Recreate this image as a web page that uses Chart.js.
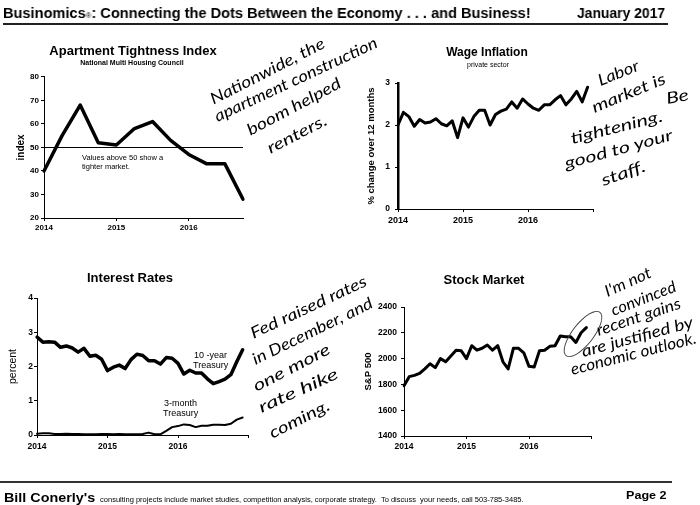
<!DOCTYPE html>
<html><head><meta charset="utf-8">
<script src="https://cdn.jsdelivr.net/npm/chart.js@4.4.1/dist/chart.umd.min.js"></script>
<style>
html,body{margin:0;padding:0;background:#fff;}
body{width:700px;height:505px;position:relative;overflow:hidden;font-family:"Liberation Sans",Arial,sans-serif;color:#000;}
.abs{position:absolute;white-space:nowrap;line-height:1;will-change:transform;}
.ctr{position:absolute;white-space:nowrap;line-height:1;text-align:center;width:240px;will-change:transform;}
.cv{position:absolute;}
.hand{position:absolute;white-space:nowrap;line-height:1;font-family:Lato,"Open Sans",sans-serif;font-weight:400;font-style:italic;font-size:16px;color:#000;z-index:5;}
</style></head><body>

<!-- header -->
<div class="abs" data-w="528" style="left:3px;top:5px;font-size:15px;font-weight:bold;">Businomics<span style="font-size:8px;font-weight:normal;">®</span>: Connecting the Dots Between the Economy . . . and Business!</div>
<div class="abs" data-w="88" style="left:577px;top:5px;font-size:15px;font-weight:bold;">January 2017</div>
<div style="position:absolute;left:3px;top:23px;width:665px;height:1.5px;background:#222;"></div>

<!-- chart titles -->
<div class="ctr" style="left:13px;top:44px;font-size:13px;font-weight:bold;">Apartment Tightness Index</div>
<div class="ctr" style="left:12px;top:59px;font-size:7px;font-weight:bold;">National Multi Housing Council</div>
<div class="ctr" style="left:367px;top:46px;font-size:12px;font-weight:bold;">Wage Inflation</div>
<div class="ctr" style="left:368px;top:60.5px;font-size:7px;">private sector</div>
<div class="ctr" style="left:10px;top:271px;font-size:13px;font-weight:bold;">Interest Rates</div>
<div class="ctr" style="left:364px;top:273px;font-size:13px;font-weight:bold;">Stock Market</div>

<!-- charts -->
<canvas id="c1" class="cv" width="270" height="170" style="left:0px;top:70px;"></canvas>
<canvas id="c2" class="cv" width="260" height="160" style="left:350px;top:70px;"></canvas>
<canvas id="c3" class="cv" width="265" height="175" style="left:0px;top:285px;"></canvas>
<canvas id="c4" class="cv" width="260" height="175" style="left:350px;top:285px;"></canvas>

<!-- in-chart notes -->
<div class="abs" style="left:82px;top:152.5px;font-size:7.5px;line-height:9px;">Values above 50 show a<br>tighter market.</div>
<div class="abs" style="left:193px;top:350px;font-size:9px;line-height:10px;text-align:center;">10 -year<br>Treasury</div>
<div class="abs" style="left:163px;top:398px;font-size:9px;line-height:10px;text-align:center;">3-month<br>Treasury</div>

<!-- ellipse around stock end -->
<div style="position:absolute;left:555px;top:323px;width:54px;height:20px;border:1px solid #444;border-radius:50%;transform:rotate(-52deg);z-index:5;"></div>

<!-- footer -->
<div style="position:absolute;left:0px;top:481px;width:672px;height:1.5px;background:#333;"></div>
<div class="abs" data-w="520" style="left:4px;top:489px;"><span style="font-size:13px;font-weight:bold;">Bill Conerly's</span> <span style="font-size:6.8px;">consulting projects include market studies, competition analysis, corporate strategy.&nbsp; To discuss&nbsp; your needs, call 503-785-3485.</span></div>
<div class="abs" data-w="40" style="left:626px;top:490px;font-size:11px;font-weight:bold;">Page 2</div>

<script>
// ---------- data ----------
const yearLabels = ['2014', '2015', '2016'];

const quarters = ['2014-Q1','2014-Q2','2014-Q3','2014-Q4','2015-Q1','2015-Q2','2015-Q3','2015-Q4','2016-Q1','2016-Q2','2016-Q3','2016-Q4'];
const apartmentIndex = [40, 55, 68, 52, 51, 58, 61, 53, 47, 43, 43, 28];
const apartmentThreshold = 50;

const months = ['2014-01','2014-02','2014-03','2014-04','2014-05','2014-06','2014-07','2014-08','2014-09','2014-10','2014-11','2014-12',
                '2015-01','2015-02','2015-03','2015-04','2015-05','2015-06','2015-07','2015-08','2015-09','2015-10','2015-11','2015-12',
                '2016-01','2016-02','2016-03','2016-04','2016-05','2016-06','2016-07','2016-08','2016-09','2016-10','2016-11','2016-12',
                '2017-01'];

const wageInflation = [2.0, 2.3, 2.2, 1.97, 2.13, 2.05, 2.07, 2.15, 2.03, 1.98, 2.1, 1.7,
                       2.17, 1.95, 2.2, 2.35, 2.35, 2.0, 2.25, 2.33, 2.38, 2.55, 2.4, 2.62,
                       2.5, 2.4, 2.35, 2.48, 2.48, 2.6, 2.7, 2.48, 2.62, 2.8, 2.55, 2.9];

const treasury10y = [2.86, 2.71, 2.72, 2.71, 2.56, 2.60, 2.54, 2.42, 2.53, 2.30, 2.33, 2.21,
                     1.88, 1.98, 2.04, 1.94, 2.20, 2.36, 2.32, 2.17, 2.17, 2.07, 2.26, 2.24,
                     2.09, 1.78, 1.89, 1.81, 1.81, 1.64, 1.50, 1.56, 1.63, 1.76, 2.14, 2.49];
const treasury3m = [0.04, 0.05, 0.05, 0.03, 0.03, 0.04, 0.03, 0.03, 0.02, 0.02, 0.02, 0.03,
                    0.03, 0.02, 0.03, 0.02, 0.02, 0.02, 0.03, 0.07, 0.02, 0.02, 0.12, 0.23,
                    0.26, 0.31, 0.29, 0.23, 0.27, 0.27, 0.30, 0.30, 0.29, 0.33, 0.45, 0.51];

const sp500 = [1790, 1860, 1870, 1885, 1920, 1960, 1930, 2000, 1975, 2020, 2065, 2060,
               2000, 2100, 2065, 2080, 2105, 2065, 2100, 1975, 1920, 2080, 2080, 2045,
               1940, 1935, 2060, 2065, 2095, 2100, 2175, 2170, 2170, 2125, 2200, 2240];

// handwritten notes: text, baseline start, baseline end
const notes = [
  ['Nationwide, the', 213, 104, 326, 46],
  ['apartment construction', 217, 121, 378, 46],
  ['boom helped', 250, 135, 342, 86],
  ['renters.', 270, 153, 328, 123],
  ['Labor', 600, 85, 640, 69],
  ['market is', 594, 112, 667, 82],
  ['Be', 667, 103, 689, 99],
  ['tightening.', 572, 143, 664, 120],
  ['good to your', 566, 168, 673, 139],
  ['staff.', 603, 185, 646, 170],
  ['Fed raised rates', 253, 338, 368, 284],
  ['in December, and', 255, 364, 374, 306],
  ['one more', 256, 391, 331, 352],
  ['rate hike', 261, 412, 339, 377],
  ['coming.', 272, 438, 331, 408],
  ["I'm not", 607, 296, 652, 276],
  ['convinced', 613, 315, 677, 290],
  ['recent gains', 598, 335, 682, 307],
  ['are justified by', 583, 356, 694, 326],
  ['economic outlook.', 572, 374, 697, 342]
];

// ---------- helpers ----------
const FONT = '"Liberation Sans", Arial, sans-serif';

function xAxis(every, size, pad, height) {
  return {
    type: 'category', offset: false,
    grid: { drawOnChartArea: false, drawTicks: true, tickLength: 3, color: '#000', lineWidth: 1 },
    border: { display: true, color: '#000', width: 1 },
    ticks: {
      autoSkip: false, maxRotation: 0, minRotation: 0, padding: pad, color: '#000',
      font: { family: FONT, size: size, weight: 'bold' },
      callback(v) { const l = this.getLabelForValue(v); const y = l.slice(0, 4); return yearLabels.includes(y) ? y : ''; }
    },
    afterBuildTicks(axis) { axis.ticks = axis.ticks.filter(t => t.value % every === 0); },
    afterFit(axis) { axis.height = height; }
  };
}
function yAxis(min, max, step, title, titleWeight, titleSize, size, width, pad, bw) {
  return {
    min: min, max: max,
    grid: { drawOnChartArea: false, drawTicks: true, tickLength: 3, color: '#000', lineWidth: 1 },
    border: { display: true, color: '#000', width: bw },
    ticks: { stepSize: step, padding: pad, color: '#000', font: { family: FONT, size: size, weight: 'bold' },
             callback: v => String(v) },
    title: { display: true, text: title, color: '#000', padding: { top: 4, bottom: 4 },
             font: { family: FONT, size: titleSize, weight: titleWeight } },
    afterFit(axis) { axis.width = width; }
  };
}
function lineDs(label, data, w) {
  return { label: label, data: data, borderColor: '#000', borderWidth: w, pointRadius: 0,
           tension: 0, fill: false, borderJoinStyle: 'round', borderCapStyle: 'round' };
}
function baseOpts(padding, scales) {
  return {
    responsive: false, animation: false, devicePixelRatio: 1,
    layout: { padding: padding },
    plugins: { legend: { display: false }, tooltip: { enabled: false }, title: { display: false } },
    scales: scales
  };
}

const thresholdLine = {
  id: 'thresholdLine',
  beforeDatasetsDraw(chart) {
    const { ctx, chartArea, scales } = chart;
    const y = Math.round(scales.y.getPixelForValue(apartmentThreshold)) + 0.5;
    ctx.save(); ctx.strokeStyle = '#000'; ctx.lineWidth = 1;
    ctx.beginPath(); ctx.moveTo(chartArea.left, y); ctx.lineTo(chartArea.right, y); ctx.stroke();
    ctx.restore();
  }
};

// ---------- charts ----------
new Chart(document.getElementById('c1'), {
  type: 'line',
  data: { labels: quarters, datasets: [lineDs('Apartment Tightness Index', apartmentIndex, 3.5)] },
  options: baseOpts({ left: 11, top: 6, right: 27, bottom: 4 }, {
    x: xAxis(4, 8, 2, 18),
    y: yAxis(20, 80, 10, 'index', 'bold', 10, 8, 33, 2, 1)
  }),
  plugins: [thresholdLine]
});

new Chart(document.getElementById('c2'), {
  type: 'line',
  data: { labels: months, datasets: [lineDs('Wage Inflation', wageInflation, 3)] },
  options: baseOpts({ left: 12, top: 13, right: 17, bottom: 4 }, {
    x: xAxis(12, 9, 3, 17),
    y: yAxis(0, 3, 1, '% change over 12 months', 'bold', 9.5, 8.5, 36, 5, 2.5)
  })
});

new Chart(document.getElementById('c3'), {
  type: 'line',
  data: { labels: months, datasets: [lineDs('10-year Treasury', treasury10y, 3.5), lineDs('3-month Treasury', treasury3m, 2)] },
  options: baseOpts({ left: 3, top: 13, right: 16.5, bottom: 7 }, {
    x: xAxis(12, 8.5, 4, 18),
    y: yAxis(0, 4, 1, 'percent', 'normal', 10.5, 8.5, 34, 1, 1)
  })
});

new Chart(document.getElementById('c4'), {
  type: 'line',
  data: { labels: months, datasets: [lineDs('S&P 500', sp500, 3)] },
  options: baseOpts({ left: 8.5, top: 22, right: 18.5, bottom: 6 }, {
    x: xAxis(12, 8.5, 3, 18),
    y: yAxis(1400, 2400, 200, 'S&P 500', 'bold', 9.5, 8.5, 45.5, 4, 1)
  })
});

// ---------- text fitting ----------
document.querySelectorAll('[data-w]').forEach(el => {
  const s = (+el.dataset.w) / el.offsetWidth;
  el.style.transformOrigin = '0 0';
  el.style.transform = 'scaleX(' + s + ')';
});

notes.forEach(([t, x1, y1, x2, y2]) => {
  const el = document.createElement('div');
  el.className = 'hand';
  el.textContent = t;
  document.body.appendChild(el);
  const w = el.offsetWidth;
  const L = Math.hypot(x2 - x1, y2 - y1);
  const a = Math.atan2(y2 - y1, x2 - x1);
  const b = 0.8 * 16;
  el.style.left = x1 + 'px';
  el.style.top = (y1 - b) + 'px';
  el.style.transformOrigin = '0 ' + b + 'px';
  el.style.transform = 'rotate(' + a + 'rad) scaleX(' + (L / w) + ')';
});
</script>
</body></html>
